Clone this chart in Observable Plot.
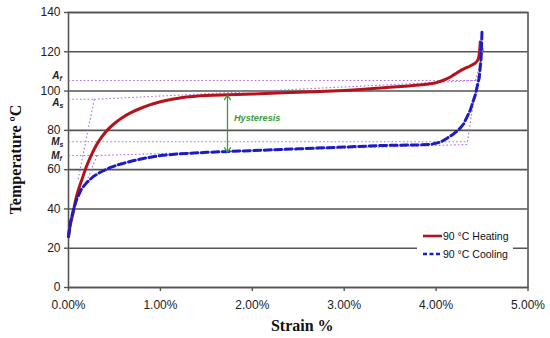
<!DOCTYPE html>
<html>
<head>
<meta charset="utf-8">
<script src="https://cdn.jsdelivr.net/npm/d3@7"></script>
<script src="https://cdn.jsdelivr.net/npm/@observablehq/plot@0.6"></script>
<style>
  html, body { margin: 0; padding: 0; background: #fff; }
  #wrap { position: relative; width: 550px; height: 338px; }
  #legend { position: absolute; left: 417px; top: 227px; width: 96px; height: 37px; background: #fff;
    font-family: "Liberation Sans", Arial, sans-serif; font-size: 10.5px; color: #111; }
  #legend .row { position: absolute; left: 6px; height: 14px; display: flex; align-items: center; }
  #legend svg { display: block; }
</style>
</head>
<body>
<div id="wrap"></div>
<script>
// ---- data ----
const heatStrain = [0, 0.02, 0.05, 0.08, 0.11, 0.15, 0.19, 0.23, 0.27, 0.31, 0.36, 0.42, 0.5, 0.58, 0.68, 0.8, 0.9, 1.0, 1.1, 1.2, 1.35, 1.5, 1.75, 2.0, 2.5, 3.0, 3.4, 3.7, 3.94, 4.05, 4.12, 4.2, 4.28, 4.35, 4.42, 4.46, 4.47, 4.48];
const heatTemp   = [26, 32, 38, 45, 50, 55.5, 61, 65.5, 69.5, 73, 76.5, 80, 83.5, 86.3, 89, 91.5, 93.2, 94.6, 95.6, 96.4, 97.2, 97.7, 98.1, 98.5, 99.4, 100.3, 101.6, 102.6, 103.7, 105, 106.3, 108.5, 110.8, 112.3, 114, 116.5, 119, 125];

const coolStrain = [0, 0.02, 0.05, 0.09, 0.14, 0.2, 0.27, 0.35, 0.45, 0.55, 0.7, 0.85, 1.0, 1.2, 1.5, 1.75, 2.0, 2.5, 3.0, 3.4, 3.8, 3.94, 4.05, 4.12, 4.19, 4.25, 4.3, 4.37, 4.43, 4.47, 4.49, 4.5];
const coolTemp   = [26, 33, 39, 45, 50, 53.5, 56.5, 58.8, 61, 62.6, 64.5, 66, 67.2, 68, 68.8, 69.3, 69.7, 70.6, 71.5, 72.3, 72.6, 72.8, 74, 76, 78.2, 80.5, 83.3, 90, 98.6, 107, 117, 131];

// transformation temperatures
const transNames = ["A", "A", "M", "M"];
const transSubs  = ["f", "s", "s", "f"];
const transTemps = [105.4, 95.8, 74.2, 67.2];

// construction (tangent) lines
const guideX1 = [0,     0,    0.28, 4.43,  4.46,  0,    4.34, 0,    0.31, 0.28, 0.31];
const guideY1 = [105.4, 95.8, 95.8, 105.4, 121.5, 74.2, 74.2, 67.2, 67.2, 95.8, 67.2];
const guideX2 = [4.43,  0.28, 4.43, 4.52,  4.53,  4.34, 4.50, 0.31, 4.34, 0.105, 0.18];
const guideY2 = [105.4, 95.8, 105.4, 121.5, 121.5, 74.2, 121.5, 67.2, 72.8, 55,  52];

// hysteresis arrow
const hystStrain = 1.73;
const hystTop = 97.8;
const hystBottom = 68.9;
const hystLabel = "Hysteresis";

const xTicks = [0, 1, 2, 3, 4, 5];
const yTicks = [0, 20, 40, 60, 80, 100, 120, 140];
const seriesNames = ["90 °C Heating", "90 °C Cooling"];

// ---- build tables ----
const heating = heatStrain.map((s, i) => ({strain: s, temp: heatTemp[i]}));
const cooling = coolStrain.map((s, i) => ({strain: s, temp: coolTemp[i]}));
const guides = guideX1.map((x, i) => ({x1: x, y1: guideY1[i], x2: guideX2[i], y2: guideY2[i]}));
const trans = transNames.map((n, i) => ({name: n, sub: transSubs[i], temp: transTemps[i]}));
const labelDy = [-5, 3, 0, 0];
const hystMid = (hystTop + hystBottom) / 2;

const RED = "#b3141c";
const BLUE = "#1c1cc4";
const PURPLE = "#b26fd6";
const GREEN = "#3c9b3c";
const GRID = "#555";

const plot = Plot.plot({
  width: 550,
  height: 338,
  marginLeft: 68,
  marginRight: 22.5,
  marginTop: 12,
  marginBottom: 51,
  style: {fontFamily: "'Liberation Sans', Arial, sans-serif", color: "#222", background: "#fff"},
  x: {domain: [0, 5], label: null},
  y: {domain: [0, 140], label: null},
  marks: [
    Plot.gridY(yTicks, {stroke: GRID, strokeOpacity: 1, strokeWidth: 1.6}),
    Plot.frame({stroke: GRID, strokeWidth: 1.6}),
    Plot.axisY({ticks: yTicks, tickSize: 4, tickPadding: 4, fontSize: 12, label: null, stroke: GRID, strokeWidth: 1.4}),
    Plot.axisX({ticks: xTicks, tickSize: 4, tickPadding: 9, fontSize: 12, label: null, stroke: GRID, strokeWidth: 1.4,
      tickFormat: d => d.toFixed(2) + "%"}),
    Plot.link(guides, {x1: "x1", y1: "y1", x2: "x2", y2: "y2", stroke: PURPLE, strokeWidth: 1.1, strokeDasharray: "1.6,2.2"}),
    Plot.line(heating, {x: "strain", y: "temp", stroke: RED, strokeWidth: 3, curve: "monotone-y"}),
    Plot.line(cooling, {x: "strain", y: "temp", stroke: BLUE, strokeWidth: 3, strokeDasharray: "7,3.5", curve: "linear"}),
    Plot.arrow([hystTop, hystBottom], {x1: () => hystStrain, x2: () => hystStrain, y1: () => hystMid, y2: d => d,
      stroke: GREEN, strokeWidth: 1.3, headLength: 6, headAngle: 70}),
    Plot.text([hystLabel], {x: () => hystStrain + 0.07, y: () => hystMid + 3, text: d => d,
      textAnchor: "start", fill: GREEN, fontSize: 9.2, fontWeight: "bold", fontStyle: "italic"}),
    ...trans.map((t, i) => Plot.text([t], {x: () => 0, y: "temp", text: "name", dx: -9, dy: labelDy[i],
      textAnchor: "end", fontSize: 10, fontWeight: "bold", fontStyle: "italic", fill: "#222"})),
    ...trans.map((t, i) => Plot.text([t], {x: () => 0, y: "temp", text: "sub", dx: -9, dy: labelDy[i] + 3,
      textAnchor: "start", fontSize: 7, fontWeight: "bold", fontStyle: "italic", fill: "#222"})),
    Plot.text(["Temperature ºC"], {frameAnchor: "left", text: d => d, rotate: -90, dx: -53, dy: 9.5,
      textAnchor: "middle", lineAnchor: "middle",
      fontFamily: "'Liberation Serif', 'Times New Roman', serif", fontSize: 16, fontWeight: "bold", fill: "#111"}),
    Plot.text(["Strain %"], {frameAnchor: "bottom", text: d => d, dy: 43, dx: 4, lineAnchor: "bottom", textAnchor: "middle",
      fontFamily: "'Liberation Serif', 'Times New Roman', serif", fontSize: 16, fontWeight: "bold", fill: "#111"})
  ]
});

const wrap = document.getElementById("wrap");
wrap.appendChild(plot);

// legend
const legend = document.createElement("div");
legend.id = "legend";
const swatches = [
  `<svg width="19" height="6"><line x1="0" y1="3" x2="19" y2="3" stroke="${RED}" stroke-width="2.6"/></svg>`,
  `<svg width="19" height="6"><line x1="0" y1="3" x2="19" y2="3" stroke="${BLUE}" stroke-width="2.6" stroke-dasharray="4,2.5"/></svg>`
];
legend.innerHTML = seriesNames.map((n, i) =>
  `<div class="row" style="top:${2 + i * 18}px">${swatches[i]}<span style="margin-left:1px">${n}</span></div>`).join("");
wrap.appendChild(legend);
</script>
</body>
</html>
